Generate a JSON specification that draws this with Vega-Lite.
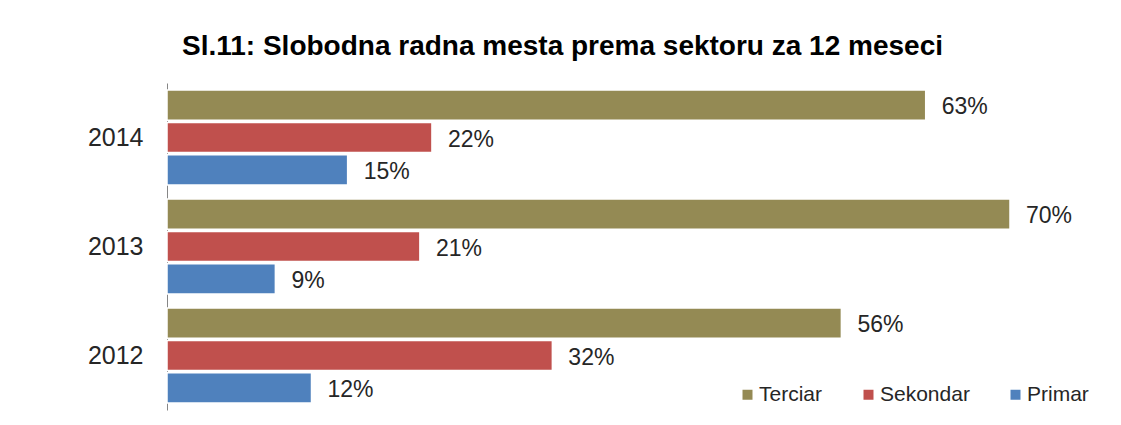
{
  "$schema": "https://vega.github.io/schema/vega-lite/v6.json",
  "width": 843,
  "height": 327,
  "autosize": {"type": "none"},
  "padding": {"left": 167, "top": 83, "right": 111, "bottom": 15},
  "background": "white",
  "config": {"view": {"stroke": null}, "font": "Liberation Sans"},
  "title": {
    "text": "Sl.11: Slobodna radna mesta prema sektoru za 12 meseci",
    "font": "Liberation Sans",
    "fontSize": 28,
    "fontWeight": "bold",
    "color": "#000000",
    "anchor": "middle",
    "dx": -26,
    "offset": 22
  },
  "data": {
    "values": [
      {"year": "2014", "sector": "Terciar", "value": 0.63},
      {"year": "2014", "sector": "Sekondar", "value": 0.22},
      {"year": "2014", "sector": "Primar", "value": 0.15},
      {"year": "2013", "sector": "Terciar", "value": 0.70},
      {"year": "2013", "sector": "Sekondar", "value": 0.21},
      {"year": "2013", "sector": "Primar", "value": 0.09},
      {"year": "2012", "sector": "Terciar", "value": 0.56},
      {"year": "2012", "sector": "Sekondar", "value": 0.32},
      {"year": "2012", "sector": "Primar", "value": 0.12}
    ]
  },
  "encoding": {
    "y": {
      "field": "year",
      "type": "nominal",
      "sort": ["2014", "2013", "2012"],
      "scale": {"paddingInner": 0.13, "paddingOuter": 0.065},
      "axis": {
        "title": null,
        "ticks": false,
        "domainColor": "#868686",
        "domainWidth": 1,
        "labelFontSize": 25,
        "labelColor": "#262626",
        "labelPadding": 24,
        "labelFont": "Liberation Sans"
      }
    },
    "yOffset": {
      "field": "sector",
      "type": "nominal",
      "sort": ["Terciar", "Sekondar", "Primar"],
      "scale": {"paddingInner": 0.07, "paddingOuter": 0}
    },
    "x": {
      "field": "value",
      "type": "quantitative",
      "scale": {"domain": [0, 0.7], "nice": false},
      "axis": null
    }
  },
  "layer": [
    {
      "mark": {"type": "bar", "stroke": "#ffffff", "strokeWidth": 1.5},
      "encoding": {
        "color": {
          "field": "sector",
          "type": "nominal",
          "sort": ["Terciar", "Sekondar", "Primar"],
          "scale": {
            "domain": ["Terciar", "Sekondar", "Primar"],
            "range": ["#948A54", "#C0504D", "#4F81BD"]
          },
          "legend": {
            "title": null,
            "orient": "none",
            "legendX": 570,
            "legendY": 301,
            "direction": "horizontal",
            "symbolType": "square",
            "symbolSize": 100,
            "symbolStrokeWidth": 0,
            "labelFontSize": 21,
            "labelColor": "#262626",
            "labelFont": "Liberation Sans",
            "labelOffset": 1,
            "columnPadding": 35
          }
        }
      }
    },
    {
      "mark": {
        "type": "text",
        "align": "left",
        "baseline": "middle",
        "dx": 16,
        "dy": 2,
        "fontSize": 23,
        "color": "#262626",
        "font": "Liberation Sans"
      },
      "encoding": {
        "text": {"field": "value", "type": "quantitative", "format": ".0%"}
      }
    }
  ]
}
